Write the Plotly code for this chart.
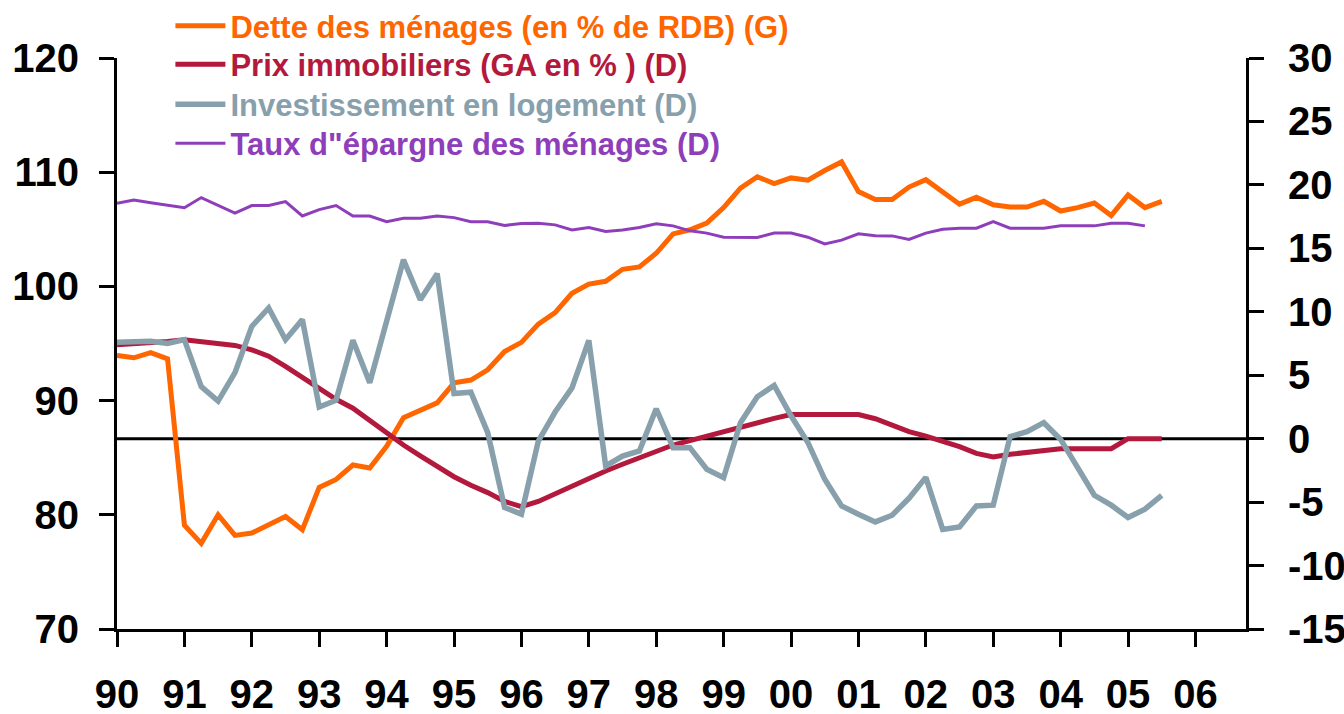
import plotly.graph_objects as go

# Quarterly data, 1990Q1 onwards
dette = [93.95, 93.75, 94.2, 93.66, 79.1, 77.5, 80.0, 78.2, 78.4, 79.1, 79.85, 78.7,
         82.4, 83.1, 84.36, 84.1, 86.0, 88.5, 89.2, 89.8, 91.56, 91.8, 92.7, 94.3,
         95.1, 96.7, 97.7, 99.4, 100.2, 100.45, 101.5, 101.7, 102.9, 104.6, 104.96, 105.55,
         106.9, 108.6, 109.6, 109.0, 109.5, 109.3, 110.15, 110.9, 108.3, 107.6, 107.6, 108.7,
         109.35, 108.3, 107.2, 107.8, 107.15, 106.95, 106.95, 107.45, 106.6, 106.9, 107.3, 106.2,
         108.0, 106.9, 107.45]

prix = [7.4, 7.45, 7.55, 7.65, 7.8, 7.65, 7.5, 7.35, 7.0, 6.5, 5.7, 4.85,
        4.0, 3.1, 2.4, 1.4, 0.4, -0.5, -1.35, -2.15, -3.0, -3.67, -4.25, -4.95,
        -5.35, -4.95, -4.35, -3.77, -3.1, -2.55, -2.02, -1.5, -1.02, -0.5, -0.15, 0.2,
        0.65, 1.0, 1.3, 1.6, 1.9, 1.9, 1.9, 1.9, 1.9, 1.57, 1.05, 0.55,
        0.2, -0.2, -0.63, -1.16, -1.44, -1.23, -1.1, -0.92, -0.79, -0.79, -0.79, -0.79,
        0.0, 0.0, 0.0]

invest = [7.6, 7.6, 7.67, 7.5, 7.8, 4.1, 2.96, 5.2, 8.85, 10.3, 7.8, 9.38,
          2.5, 3.03, 7.75, 4.4, 9.2, 14.1, 10.95, 13.0, 3.56, 3.66, 0.47, -5.42,
          -5.95, -0.2, 2.1, 4.0, 7.75, -2.15, -1.37, -0.97, 2.36, -0.71, -0.71, -2.41,
          -3.07, 1.26, 3.3, 4.2, 1.8, -0.3, -3.2, -5.3, -5.95, -6.56, -6.03, -4.7,
          -3.05, -7.15, -6.95, -5.3, -5.24, 0.16, 0.55, 1.26, -0.06, -2.28, -4.46, -5.24,
          -6.21, -5.56, -4.46]

epargne = [18.55, 18.81, 18.6, 18.4, 18.2, 19.0, 18.4, 17.77, 18.37, 18.37, 18.68, 17.55,
           18.05, 18.37, 17.55, 17.55, 17.1, 17.37, 17.37, 17.55, 17.42, 17.1, 17.1, 16.8,
           16.95, 16.97, 16.85, 16.45, 16.64, 16.32, 16.45, 16.64, 16.93, 16.77, 16.38, 16.2,
           15.88, 15.85, 15.85, 16.2, 16.2, 15.88, 15.35, 15.65, 16.14, 16.0, 15.98, 15.7,
           16.2, 16.51, 16.59, 16.59, 17.1, 16.59, 16.59, 16.59, 16.77, 16.77, 16.77, 16.98,
           16.98, 16.77]

years = list(range(1990, 2007))
year_labels = ["90", "91", "92", "93", "94", "95", "96", "97", "98", "99",
               "00", "01", "02", "03", "04", "05", "06"]
left_ticks = [70, 80, 90, 100, 110, 120]
right_ticks = [-15, -10, -5, 0, 5, 10, 15, 20, 25, 30]
right_labels = ["-15", "-10", "-5", "0", "5", "10", "15", "20", "25", "30"]

names = ["Dette des ménages (en % de RDB) (G)",
         "Prix immobiliers (GA en % ) (D)",
         "Investissement en logement (D)",
         "Taux d\"épargne des ménages (D)"]
colors = ["#FF6600", "#B2193C", "#87A0AC", "#8E3EBA"]


def qx(n):
    return [1990 + i / 4 for i in range(n)]


def label(i):
    return "<span style='color:%s'>%s</span>" % (colors[i], names[i])


FONT = "Liberation Sans, Arial, sans-serif"
legend_ids = ["legend", "legend2", "legend3", "legend4"]

fig = go.Figure()
fig.add_trace(go.Scatter(x=qx(len(dette)), y=dette, name=label(0), mode="lines",
                         line=dict(color=colors[0], width=5), yaxis="y",
                         legend=legend_ids[0]))
fig.add_trace(go.Scatter(x=qx(len(prix)), y=prix, name=label(1), mode="lines",
                         line=dict(color=colors[1], width=5), yaxis="y2",
                         legend=legend_ids[1]))
fig.add_trace(go.Scatter(x=qx(len(invest)), y=invest, name=label(2), mode="lines",
                         line=dict(color=colors[2], width=5.5), yaxis="y2",
                         legend=legend_ids[2]))
fig.add_trace(go.Scatter(x=qx(len(epargne)), y=epargne, name=label(3), mode="lines",
                         line=dict(color=colors[3], width=3), yaxis="y2",
                         legend=legend_ids[3]))

# zero line of right axis
fig.add_shape(type="line", xref="paper", x0=0, x1=1, yref="y2", y0=0, y1=0,
              line=dict(color="black", width=3), layer="below")

tickfont = dict(family=FONT, size=40, color="black", weight="bold")
legfont = dict(family=FONT, size=31, weight="bold")
leg_y = [1.056, 0.9885, 0.9184, 0.8502]

legends = {}
for lid, yy in zip(legend_ids, leg_y):
    legends[lid] = dict(x=0.0473, y=yy, xanchor="left", yanchor="middle",
                        font=legfont, bgcolor="rgba(0,0,0,0)", itemwidth=50)

fig.update_layout(
    width=1344, height=714,
    margin=dict(l=116.5, r=97.5, t=57.7, b=85, autoexpand=False),
    paper_bgcolor="white", plot_bgcolor="white",
    showlegend=True,
    xaxis=dict(range=[1990, 2006.75], tickvals=years, ticktext=year_labels,
               showgrid=False, zeroline=False, showline=True, linecolor="black",
               linewidth=3, ticks="outside", ticklen=15, tickwidth=3, tickcolor="black",
               tickfont=tickfont, ticklabelstandoff=13, automargin=False),
    yaxis=dict(range=[70, 120], tickvals=left_ticks, showgrid=False, zeroline=False,
               showline=True, linecolor="black", linewidth=3, ticks="outside",
               ticklen=15, tickwidth=3, tickcolor="black", tickfont=tickfont,
               ticklabelstandoff=12, automargin=False),
    yaxis2=dict(range=[-15, 30], tickvals=right_ticks, ticktext=right_labels,
                overlaying="y", side="right",
                showgrid=False, zeroline=False, showline=True, linecolor="black",
                linewidth=3, ticks="outside", ticklen=15, tickwidth=3, tickcolor="black",
                tickfont=tickfont, ticklabelstandoff=16, automargin=False),
    **legends,
)

fig.write_html("out.html",
               config={"displayModeBar": False},
               post_script="document.body.style.margin='0';"
                           "document.documentElement.style.overflow='hidden';")
